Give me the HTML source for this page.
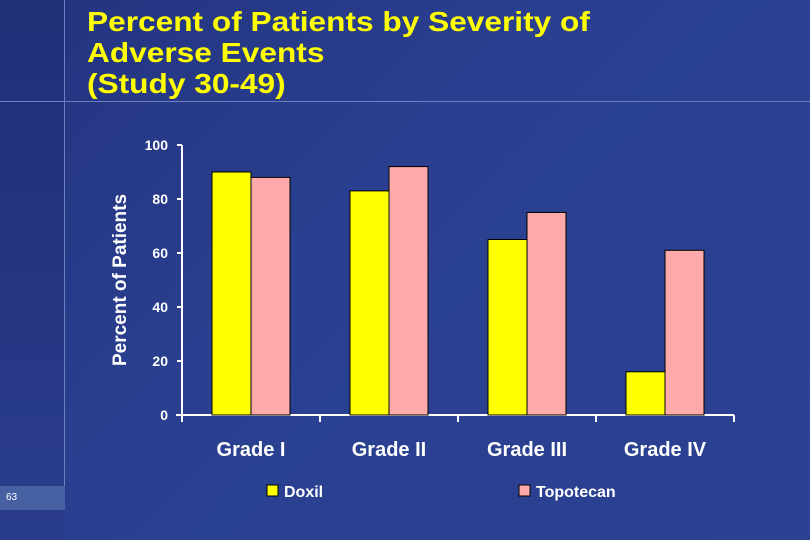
<!DOCTYPE html>
<html><head><meta charset="utf-8"><style>
html,body{margin:0;padding:0}
body{width:810px;height:540px;overflow:hidden;background:linear-gradient(135deg,#23337f 0%,#2a3f8f 40%,#2c4192 100%);position:relative;font-family:"Liberation Sans",Arial,sans-serif}
.t{position:absolute;left:87px;top:6px;color:#ffff00;font-weight:bold;font-size:28px;line-height:31px;transform:scaleX(1.13);transform-origin:left top;white-space:nowrap}
</style></head><body>
<div style="position:absolute;left:0;top:0;width:64px;height:540px;background:linear-gradient(180deg,#1f2f78,#2a3d8c)"></div>
<div style="position:absolute;left:64px;top:0;width:1px;height:510px;background:#6c80c0"></div>
<div style="position:absolute;left:0;top:101px;width:810px;height:1px;background:#6c80c0"></div>
<div style="position:absolute;left:0;top:486px;width:65px;height:24px;background:#4760a2;color:#fff;font-size:10px;line-height:24px;padding-left:6px;box-sizing:border-box">63</div>
<div class="t">Percent of Patients by Severity of<br>Adverse Events<br>(Study 30-49)</div>
<svg id="c" width="810" height="540" style="position:absolute;left:0;top:0"></svg>
<script>
const categories=["Grade I","Grade II","Grade III","Grade IV"];
const doxil=[90,83,65,16];
const topotecan=[88,92,75,61];
const yTicks=[0,20,40,60,80,100];
const seriesNames=["Doxil","Topotecan"];
const svg=document.getElementById('c');
const NS="http://www.w3.org/2000/svg";
const x0=182,x1=734,y0=415,y100=145;
const y=v=>y0-(v/100)*(y0-y100);
const bw=(x1-x0)/categories.length;
function mk(t,a,txt){const e=document.createElementNS(NS,t);for(const k in a)e.setAttribute(k,a[k]);if(txt!==undefined)e.textContent=txt;svg.appendChild(e);return e;}
let e;
e=mk('line',{x1:x0,y1:y100,x2:x0,y2:y0+5,stroke:'#fff','stroke-width':2});


e=mk('line',{x1:x0-6,y1:y0,x2:x1,y2:y0,stroke:'#fff','stroke-width':2});


yTicks.forEach(v=>{
 e=mk('line',{x1:x0-5,y1:y(v),x2:x0,y2:y(v),stroke:'#fff','stroke-width':2});
 
 
 e=mk('text',{x:x0-14,y:y(v)+5,fill:'#fff','font-size':14,'font-weight':'bold','text-anchor':'end','font-family':'Liberation Sans, sans-serif'},String(v));
 
 
});
for(let i=0;i<=categories.length;i++){
 e=mk('line',{x1:x0+i*bw,y1:y0,x2:x0+i*bw,y2:y0+7,stroke:'#fff','stroke-width':2});
 
 
}
categories.forEach((c,i)=>{
 const cx=x0+i*bw+bw/2, w=39;
 e=mk('rect',{x:cx-w,y:y(doxil[i]),width:w,height:y0-y(doxil[i]),fill:'#ffff00',stroke:'#000','stroke-width':1});
 
 
 e=mk('rect',{x:cx,y:y(topotecan[i]),width:w,height:y0-y(topotecan[i]),fill:'#ffaaaa',stroke:'#000','stroke-width':1});
 
 
 e=mk('text',{x:cx,y:456,fill:'#fff','font-size':20,'font-weight':'bold','text-anchor':'middle','font-family':'Liberation Sans, sans-serif'},c);
 
 
});
e=mk('text',{x:0,y:0,fill:'#fff','font-size':19,'font-weight':'bold','text-anchor':'middle','font-family':'Liberation Sans, sans-serif',transform:'translate(126,280) rotate(-90)'},'Percent of Patients');


const lx=[267,519],lc=['#ffff00','#ffaaaa'];
seriesNames.forEach((n,i)=>{
 e=mk('rect',{x:lx[i],y:485,width:11,height:11,fill:lc[i],stroke:'#000','stroke-width':1});
 
 
 e=mk('text',{x:lx[i]+17,y:497,fill:'#fff','font-size':16,'font-weight':'bold','font-family':'Liberation Sans, sans-serif'},n);
 
 
});
</script>
</body></html>
